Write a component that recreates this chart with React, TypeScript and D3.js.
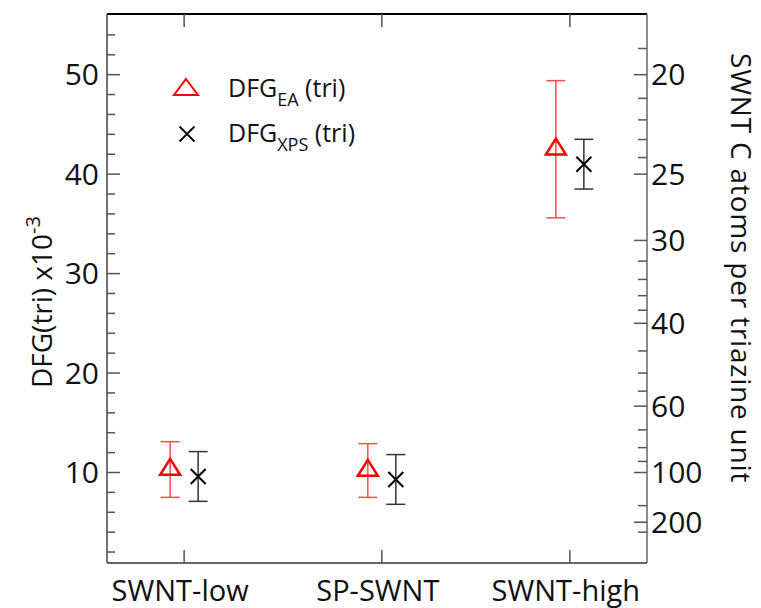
import React from 'react';
import * as d3 from 'd3';

const categories = ['SWNT-low', 'SP-SWNT', 'SWNT-high'];
const categoryX = [1, 2.025, 3];
const eaValues = [10.3, 10.2, 42.5];
const eaErrors = [2.8, 2.7, 6.9];
const xpsValues = [9.6, 9.3, 41.0];
const xpsErrors = [2.5, 2.5, 2.5];
const leftMajorTicks = [10, 20, 30, 40, 50];
const leftMinorTicks = [2, 4, 6, 8, 12, 14, 16, 18, 22, 24, 26, 28, 32, 34, 36, 38, 42, 44, 46, 48, 52, 54];
const rightMajorTicks = [20, 25, 30, 40, 60, 100, 200];
const rightMinorTicks = [19, 21, 22, 23, 24, 32, 34, 36, 38, 45, 50, 55, 70, 80, 90, 150, 250];

const W = 761;
const H = 608;
const L = 107, R = 647, T = 14, B = 563;
const FONT = '"Open Sans", sans-serif';

export default function App() {
  const x = d3.scaleLinear().domain([0.6, 3.4]).range([L, R]);
  const y = d3.scaleLinear().domain([0.9, 56.1]).range([B, T]);
  const toDfg = (c: number) => 1000 / c;
  const dodge = 14;
  const cap = 9.5;
  const triW = 20, triH = 16;
  const triPath = `M0,${-triH * 2 / 3}L${triW / 2},${triH / 3}L${-triW / 2},${triH / 3}Z`;
  const xs = 7.5;
  const xPath = `M${-xs},${-xs}L${xs},${xs}M${-xs},${xs}L${xs},${-xs}`;
  const tickColor = '#555';
  const redErr = '#ff4a4a';

  const errBar = (cx: number, v: number, e: number, color: string, key: string) => (
    <g key={key} stroke={color} strokeWidth={1.5} fill="none">
      <line x1={cx} x2={cx} y1={y(v - e)} y2={y(v + e)} />
      <line x1={cx - cap} x2={cx + cap} y1={y(v + e)} y2={y(v + e)} />
      <line x1={cx - cap} x2={cx + cap} y1={y(v - e)} y2={y(v - e)} />
    </g>
  );

  return (
    <svg width={W} height={H} style={{ position: 'absolute', left: 0, top: 0, background: '#fff' }} fontFamily={FONT}>
      {/* frame */}
      <line x1={L} x2={R} y1={T} y2={T} stroke="#000" strokeWidth={2} />
      <line x1={L} x2={L} y1={T} y2={B} stroke="#444" strokeWidth={1.5} />
      <line x1={R} x2={R} y1={T} y2={B} stroke="#666" strokeWidth={1.5} />
      <line x1={L} x2={R} y1={B} y2={B} stroke="#333" strokeWidth={1.5} />

      {/* left ticks */}
      {leftMajorTicks.map(v => (
        <g key={'lm' + v}>
          <line x1={L} x2={L + 13} y1={y(v)} y2={y(v)} stroke={tickColor} strokeWidth={1.5} />
          <text x={L - 8} y={y(v)} dy="0.36em" textAnchor="end" fontSize={30} fill="#111">{v}</text>
        </g>
      ))}
      {leftMinorTicks.map(v => (
        <line key={'ln' + v} x1={L} x2={L + 8} y1={y(v)} y2={y(v)} stroke={tickColor} strokeWidth={1.5} />
      ))}

      {/* right ticks */}
      {rightMajorTicks.map(c => (
        <g key={'rm' + c}>
          <line x1={R - 13} x2={R} y1={y(toDfg(c))} y2={y(toDfg(c))} stroke={tickColor} strokeWidth={1.5} />
          <text x={R + 4} y={y(toDfg(c))} dy="0.36em" textAnchor="start" fontSize={30} fill="#111">{c}</text>
        </g>
      ))}
      {rightMinorTicks.map(c => (
        <line key={'rn' + c} x1={R - 9} x2={R} y1={y(toDfg(c))} y2={y(toDfg(c))} stroke={tickColor} strokeWidth={1.5} />
      ))}

      {/* category ticks and labels */}
      {categories.map((c, i) => (
        <g key={'c' + c}>
          <line x1={x(categoryX[i])} x2={x(categoryX[i])} y1={T} y2={T + 13} stroke={tickColor} strokeWidth={1.5} />
          <line x1={x(categoryX[i])} x2={x(categoryX[i])} y1={B} y2={B - 13} stroke={tickColor} strokeWidth={1.5} />
          <text x={x(categoryX[i]) - 4} y={601} textAnchor="middle" fontSize={29} fill="#111">{c}</text>
        </g>
      ))}

      {/* error bars */}
      {categories.map((c, i) => errBar(x(categoryX[i]) - dodge, eaValues[i], eaErrors[i], redErr, 'ea' + i))}
      {categories.map((c, i) => errBar(x(categoryX[i]) + dodge, xpsValues[i], xpsErrors[i], '#333', 'xps' + i))}

      {/* markers */}
      {categories.map((c, i) => (
        <path key={'tri' + i} d={triPath} transform={`translate(${x(categoryX[i]) - dodge},${y(eaValues[i])})`}
          fill="none" stroke="#ff0000" strokeWidth={2.5} strokeLinejoin="miter" />
      ))}
      {categories.map((c, i) => (
        <path key={'x' + i} d={xPath} transform={`translate(${x(categoryX[i]) + dodge},${y(xpsValues[i])})`}
          fill="none" stroke="#000" strokeWidth={2} />
      ))}

      {/* legend */}
      <path d={`M0,${-10}L12,6L-12,6Z`} transform="translate(186,89)" fill="none" stroke="#ff0000" strokeWidth={2} />
      <text x={228} y={97} fontSize={25} fill="#111">
        DFG<tspan fontSize={18} dy={9}>EA</tspan><tspan dy={-9}> (tri)</tspan>
      </text>
      <path d={xPath} transform="translate(187,134)" fill="none" stroke="#000" strokeWidth={1.8} />
      <text x={228} y={142} fontSize={25} fill="#111">
        DFG<tspan fontSize={18} dy={9}>XPS</tspan><tspan dy={-9}> (tri)</tspan>
      </text>

      {/* axis titles */}
      <text transform="translate(52,388) rotate(-90)" fontSize={28} fill="#111">
        DFG(tri) x10<tspan fontSize={20} dy={-12}>-3</tspan>
      </text>
      <text transform="translate(731,53) rotate(90)" fontSize={28} fill="#111" letterSpacing={0.8}>
        SWNT C atoms per triazine unit
      </text>
    </svg>
  );
}
